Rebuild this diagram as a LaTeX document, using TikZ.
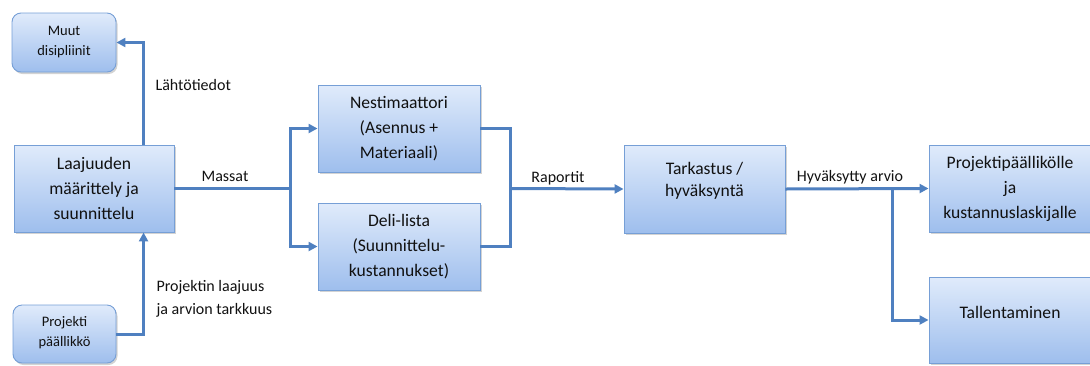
\documentclass[tikz,border=0pt]{standalone}
\usepackage{fontspec}
\setmainfont{Carlito}
\usetikzlibrary{arrows.meta,calc,shadows}
\definecolor{boxtop}{HTML}{E0EBFB}
\definecolor{boxbot}{HTML}{9EBEED}
\definecolor{boxline}{HTML}{769FD6}
\definecolor{conncol}{HTML}{4F80C0}
\definecolor{txt}{HTML}{111111}
\tikzset{
  boxbase/.style={draw=boxline, line width=0.9pt, top color=boxtop, bottom color=boxbot,
    drop shadow={shadow xshift=1.5pt, shadow yshift=-2pt, opacity=0.35}, inner sep=0pt},
  bigbox/.style={boxbase, rectangle},
  smallbox/.style={boxbase, rounded corners=9pt},
  bigtext/.style={text=txt, align=center, font=\fontsize{17.6}{25}\selectfont},
  smalltext/.style={text=txt, align=center, font=\fontsize{14.5}{20}\selectfont},
  lbl/.style={text=txt, font=\fontsize{16}{23}\selectfont},
  wire/.style={draw=conncol, line width=3pt},
  conn/.style={wire, -{Triangle[length=9pt,width=9pt]}},
}
\begin{document}
\begin{tikzpicture}[x=1pt,y=-1pt]
\useasboundingbox (0,0) rectangle (1090,365);
\begin{scope}
\clip (0,0) rectangle (1090,365);
% boxes
\node[smallbox, minimum width=104pt, minimum height=59pt] (muut) at (64,42.5) {};
\node[bigbox, minimum width=160pt, minimum height=87pt] (laaj) at (94,188.5) {};
\node[smallbox, minimum width=103pt, minimum height=58pt] (proj) at (64.5,334) {};
\node[bigbox, minimum width=162pt, minimum height=87pt] (nest) at (399,128.5) {};
\node[bigbox, minimum width=162pt, minimum height=87pt] (deli) at (399,246.5) {};
\node[bigbox, minimum width=161pt, minimum height=88pt] (tark) at (704.5,189) {};
\node[bigbox, minimum width=162pt, minimum height=87pt] (ppl) at (1010,188.5) {};
\node[bigbox, minimum width=162pt, minimum height=86pt] (tall) at (1010,320) {};
\end{scope}
% box texts
\node[smalltext] (muutT) at (muut.center) {Muut\\disipliinit};
\node[bigtext] (laajT) at (laaj.center) {Laajuuden\\määrittely ja\\suunnittelu};
\node[smalltext] (projT) at ($(proj.center)+(0,-1)$) {Projekti\\päällikkö};
\node[bigtext] (nestT) at (nest.center) {Nestimaattori\\(Asennus +\\Materiaali)};
\node[bigtext] (deliT) at (deli.center) {Deli-lista\\(Suunnittelu-\\kustannukset)};
\node[bigtext, font=\fontsize{17.6}{22.5}\selectfont] (tarkT) at ($(tark.center)+(0,-8)$) {Tarkastus /\\hyväksyntä};
\node[bigtext] (pplT) at (ppl.center) {Projektipäällikölle\\ja\\kustannuslaskijalle};
\node[bigtext] (tallT) at ($(tall.center)+(0,-8)$) {Tallentaminen};
% junction coordinates
\coordinate (up) at ($(laaj.north west)+(130,0)$);
\coordinate (dn) at ($(laaj.south west)+(130,0)$);
\coordinate (m) at (290,188.5);
\coordinate (r) at (510,188.5);
\coordinate (h) at (892,188.5);
% connectors
\draw[conn] (up) |- (muut.east);
\draw[conn] (proj.east) -| (dn);
\draw[wire] (laaj.east) -- (m);
\draw[conn] (m) |- (nest.west);
\draw[conn] (m) |- (deli.west);
\draw[wire] (nest.east) -| (r);
\draw[wire] (deli.east) -| (r);
\draw[conn] (r) -- (tark.west);
\draw[conn] (tark.east) -- (ppl.west);
\draw[conn] (h) |- (tall.west);
% labels
\node[lbl, anchor=west] (l1) at (152,85) {Lähtötiedot};
\node[lbl, anchor=west, align=left] (l2) at (153,298.5) {Projektin laajuus\\ja arvion tarkkuus};
\node[lbl] (l3) at (225,176) {Massat};
\node[lbl] (l4) at (558,178) {Raportit};
\node[lbl, font=\fontsize{16}{20}\selectfont] (l5) at (850,177) {Hyväksytty arvio};
\end{tikzpicture}
\end{document}
